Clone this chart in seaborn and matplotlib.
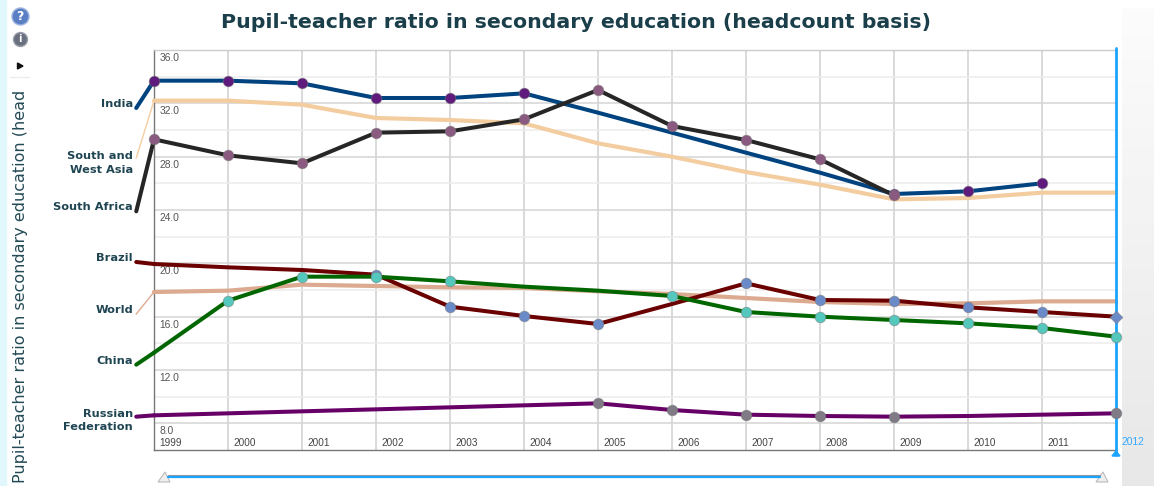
import numpy as np
import pandas as pd
import seaborn as sns
from matplotlib import pyplot as plt
from matplotlib.patches import Polygon, Rectangle
from matplotlib.transforms import ScaledTranslation

years = list(range(1999, 2013))
india = [33.7, 33.7, 33.5, 32.4, 32.4, 32.75, 31.3, 29.8, 28.3, 26.8, 25.2, 25.4, 26.0, None]
south_west_asia = [32.2, 32.2, 31.9, 30.9, 30.75, 30.5, 29.0, 28.0, 26.85, 25.9, 24.8, 24.9, 25.3, 25.3]
south_africa = [29.3, 28.1, 27.5, 29.8, 29.9, 30.8, 33.0, 30.3, 29.25, 27.8, 25.1, None, None, None]
brazil = [19.95, 19.7, 19.5, 19.15, 16.75, 16.05, 15.45, 16.95, 18.5, 17.25, 17.2, 16.7, 16.35, 16.0]
world = [17.85, 17.95, 18.4, 18.3, 18.2, 18.15, 17.9, 17.7, 17.4, 17.1, 16.95, 17.0, 17.15, 17.15]
china = [13.3, 17.2, 19.0, 19.0, 18.65, 18.25, 17.95, 17.55, 16.35, 16.0, 15.75, 15.5, 15.15, 14.5]
russia = [8.6, 8.75, 8.9, 9.05, 9.2, 9.35, 9.5, 9.0, 8.65, 8.55, 8.5, 8.55, 8.65, 8.75]

india_marked = [1999, 2000, 2001, 2002, 2003, 2004, 2009, 2010, 2011]
south_africa_marked = [1999, 2000, 2001, 2002, 2003, 2004, 2005, 2006, 2007, 2008, 2009]
brazil_marked = [2002, 2003, 2004, 2005, 2007, 2008, 2009, 2010, 2011]
brazil_diamond = [2012]
china_marked = [2000, 2001, 2002, 2003, 2006, 2007, 2008, 2009, 2010, 2011, 2012]
russia_marked = [2005, 2006, 2007, 2008, 2009, 2012]

# where each leader line ends, left of 1999
india_lead = 31.65
south_west_asia_lead = 27.9
south_africa_lead = 23.9
brazil_lead = 20.1
world_lead = 16.2
china_lead = 12.4
russia_lead = 8.5

y_major = [8, 12, 16, 20, 24, 28, 32, 36]
y_minor = [10, 14, 18, 22, 26, 30, 34]

W, H = 1154, 486
sns.set_style('white')
fig = plt.figure(figsize=(W / 100, H / 100), dpi=100)
fig.patch.set_facecolor('white')
ax = fig.add_axes([154 / W, 1 - 450 / H, (1116 - 154) / W, 400 / H])


def fx(px):
    return px / W


def fy(px):
    return 1 - px / H


# (name, values, colour, width, lead, thin lead, marked years, marker colour, label shift px)
series = [
    ('World', world, '#dcaa90', 3.0, world_lead, True, [], None, 4),
    ('South and\nWest Asia', south_west_asia, '#f3cd9f', 3.0, south_west_asia_lead, True, [], None, -5),
    ('India', india, '#00437f', 2.9, india_lead, False, india_marked, '#5f1a7d', 4),
    ('South Africa', south_africa, '#262626', 2.9, south_africa_lead, False, south_africa_marked, '#8a5a80', 4),
    ('Brazil', brazil, '#6b0000', 2.9, brazil_lead, False, brazil_marked, '#6b8ac8', 4),
    ('China', china, '#006600', 2.9, china_lead, False, china_marked, '#55c8bd', 4),
    ('Russian\nFederation', russia, '#660066', 2.9, russia_lead, False, russia_marked, '#7f7a85', -4),
]

for i, (name, values, color, lw, lead, thin, marked, mcolor, shift) in enumerate(series):
    df = pd.DataFrame({'year': years, 'ratio': values}).dropna()
    sns.lineplot(data=df, x='year', y='ratio', color=color, linewidth=lw, errorbar=None,
                 legend=False, ax=ax, zorder=3 + i, clip_on=False, solid_capstyle='round')
    first = df['ratio'].iloc[0]
    sns.lineplot(x=[1998.76, 1999], y=[lead, first], color=color, linewidth=1.0 if thin else lw,
                 errorbar=None, legend=False, ax=ax, zorder=3 + i, clip_on=False,
                 solid_capstyle='round')
    if marked:
        sub = df[df['year'].isin(marked)]
        sns.scatterplot(data=sub, x='year', y='ratio', color=mcolor, s=58, edgecolor='#77777799',
                        linewidth=0.6, legend=False, ax=ax, zorder=12, clip_on=False)
    ax.annotate(name, xy=(1999, lead), xytext=(-21, shift), textcoords='offset pixels',
                ha='right', va='center', multialignment='right',
                fontsize=8.2, fontweight='bold', color='#1f4552', family='DejaVu Sans',
                linespacing=1.4, annotation_clip=False)

df = pd.DataFrame({'year': years, 'ratio': brazil})
sns.scatterplot(data=df[df['year'].isin(brazil_diamond)], x='year', y='ratio', color='#6b8ac8',
                marker='D', s=42, edgecolor='#77777799', linewidth=0.6, legend=False, ax=ax,
                zorder=12, clip_on=False)

ax.set_xlim(1999, 2012)
ax.set_ylim(6, 36)
ax.set_xlabel('')
ax.set_ylabel('')
ax.set_axisbelow(True)

ax.set_yticks(y_major)
ax.set_yticklabels([f'{v:.1f}' for v in y_major])
ax.set_yticks(y_minor, minor=True)
ax.set_xticks(years[:-1])
ax.set_xticklabels([str(y) for y in years[:-1]])
ax.grid(True, which='major', axis='y', color='#d4d4d4', linewidth=1.1)
ax.grid(True, which='minor', axis='y', color='#ececec', linewidth=1.1)
ax.grid(True, which='major', axis='x', color='#d0d0d0', linewidth=1.1)
ax.tick_params(axis='both', which='both', length=0)
ax.tick_params(axis='y', direction='in', pad=-4, labelsize=7.4, labelcolor='#555555')
ax.tick_params(axis='x', direction='in', pad=-8.5, labelsize=7.2, labelcolor='#444444')
for lab in ax.get_yticklabels():
    lab.set_family('Liberation Sans')
    lab.set_horizontalalignment('left')
    lab.set_verticalalignment('top')
    lab.set_transform(lab.get_transform() + ScaledTranslation(0, -3 / 100, fig.dpi_scale_trans))
for lab in ax.get_xticklabels():
    lab.set_family('Liberation Sans')
    lab.set_horizontalalignment('left')
    lab.set_transform(lab.get_transform() + ScaledTranslation(5 / 100, 0, fig.dpi_scale_trans))

ax.spines['top'].set_color('#cccccc')
ax.spines['top'].set_linewidth(1.0)
ax.spines['left'].set_color('#777777')
ax.spines['left'].set_linewidth(1.0)
ax.spines['bottom'].set_color('#777777')
ax.spines['bottom'].set_linewidth(1.0)
ax.spines['right'].set_visible(False)

# 2012 cursor
ax.axvline(2012, ymin=-0.012, ymax=1.004, color='#1aa3ff', linewidth=2.0, clip_on=False, zorder=10)
fig.add_artist(Polygon([(fx(1112), fy(456)), (fx(1120), fy(456)), (fx(1116), fy(451))],
                       closed=True, color='#1aa3ff', transform=fig.transFigure))
fig.text(fx(1121), fy(442), '2012', color='#33aaff', fontsize=7.4, family='Liberation Sans',
         ha='left', va='center')

fig.text(fx(576), fy(22), 'Pupil-teacher ratio in secondary education (headcount basis)',
         ha='center', va='center', fontsize=14.75, fontweight='bold', color='#1a3f4a',
         family='DejaVu Sans')
fig.text(fx(21), fy(90), 'Pupil-teacher ratio in secondary education (head', rotation=90,
         ha='center', va='top', fontsize=11.5, color='#234a55', family='DejaVu Sans')

# side strips
fig.add_artist(Rectangle((0, 0), fx(6), 1, color='#e0f8fb', transform=fig.transFigure, zorder=-5))
panel = fig.add_axes([fx(1122), 0, fx(W - 1122), fy(8)], zorder=-5)
panel.imshow(np.linspace(0.985, 0.905, 64).reshape(-1, 1), cmap='gray', vmin=0, vmax=1, aspect='auto')
panel.axis('off')

# icons
fig.add_artist(plt.Line2D([fx(10), fx(29)], [fy(77), fy(77)], color='#eeeeee', linewidth=1.0))
for cx, cy, r, fc, ec, ch, fs in [(20, 16, 8.5, '#5a7fc4', '#9db4de', '?', 9),
                                  (20, 39, 7, '#68707f', '#9aa0aa', 'i', 7)]:
    fig.add_artist(plt.Line2D([fx(cx)], [fy(cy)], marker='o', markersize=r * 2 * 0.72,
                              markerfacecolor=fc, markeredgecolor=ec, markeredgewidth=1.0))
    fig.text(fx(cx), fy(cy), ch, color='white', fontsize=fs, fontweight='bold', ha='center',
             va='center', family='DejaVu Sans')
fig.add_artist(Polygon([(fx(17.5), fy(63)), (fx(17.5), fy(69)), (fx(23), fy(66))], closed=True,
                       color='#111111', transform=fig.transFigure))

# range slider
fig.add_artist(plt.Line2D([fx(168), fx(1100)], [fy(475), fy(475)], color='#999999', linewidth=0.8))
fig.add_artist(plt.Line2D([fx(168), fx(1100)], [fy(476.5), fy(476.5)], color='#1aa3ff', linewidth=1.6))
for c in [164, 1102]:
    fig.add_artist(Polygon([(fx(c - 6), fy(482)), (fx(c + 6), fy(482)), (fx(c + 1), fy(472))],
                           closed=True, facecolor='#eeeeee', edgecolor='#bbbbbb', linewidth=0.8,
                           transform=fig.transFigure))

fig.savefig('out.png', dpi=100)
